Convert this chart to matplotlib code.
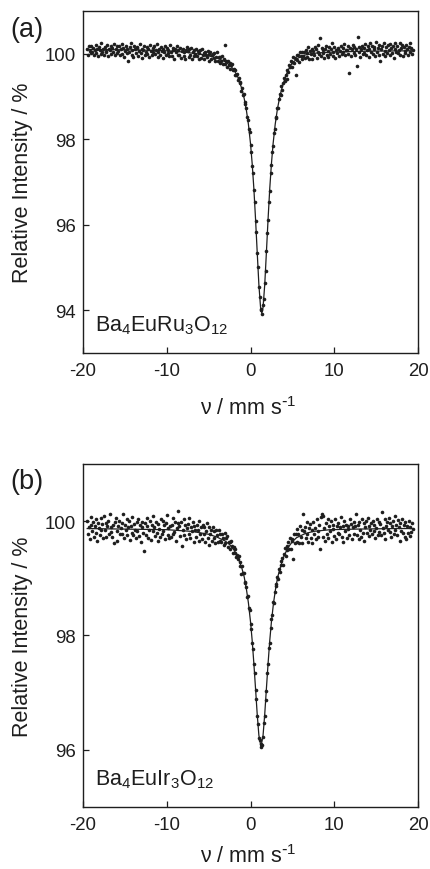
import numpy as np
import matplotlib
matplotlib.use("Agg")
import matplotlib.pyplot as plt

plt.rcParams["font.family"] = ["Liberation Sans", "DejaVu Sans"]
plt.rcParams["mathtext.default"] = "regular"
plt.rcParams["axes.unicode_minus"] = False

INK = "#1e1e1e"

# --- Data ----------------------------------------------------------------
# velocity channels: -19.5 ... 19.4 mm/s, 0.1 mm/s apart (10 channels per row)
V_START, V_STEP = -19.5, 0.1

ru_counts = [
    100.10, 99.98, 100.17, 100.06, 100.01, 100.19, 100.04, 100.13, 99.96, 100.09,
    100.21, 100.02, 100.12, 99.94, 100.15, 100.08, 99.99, 100.24, 100.05, 100.11,
    99.97, 100.16, 100.07, 100.03, 100.20, 99.95, 100.12, 100.09, 100.00, 100.18,
    100.14, 100.04, 100.22, 99.98, 100.10, 100.17, 100.01, 100.06, 100.19, 99.96,
    100.10, 100.22, 99.99, 100.14, 99.92, 100.07, 100.17, 100.02, 100.12, 99.83,
    100.04, 100.15, 100.25, 99.98, 100.09, 99.93, 100.19, 100.11, 100.01, 100.14,
    100.16, 99.95, 100.07, 100.22, 100.02, 100.12, 99.90, 100.09, 100.19, 99.98,
    100.05, 100.15, 99.99, 100.11, 99.93, 100.20, 100.07, 99.96, 100.13, 100.03,
    100.17, 99.99, 100.09, 100.23, 99.93, 100.05, 100.12, 99.96, 100.16, 100.07,
    99.91, 100.11, 100.03, 100.18, 99.97, 100.14, 100.01, 100.08, 99.94, 100.20,
    100.05, 99.94, 100.14, 100.08, 99.87, 100.11, 100.03, 100.18, 99.97, 100.09,
    99.98, 100.14, 99.91, 100.06, 100.11, 99.95, 100.03, 99.88, 100.09, 100.15,
    100.06, 99.92, 100.10, 99.98, 100.14, 99.87, 100.03, 100.08, 99.95, 100.00,
    100.12, 99.95, 100.06, 99.88, 100.02, 100.09, 99.90, 100.12, 99.96, 100.02,
    99.88, 100.05, 99.98, 99.92, 100.07, 99.82, 100.00, 100.03, 99.88, 99.96,
    100.00, 99.89, 100.02, 99.83, 99.92, 100.03, 99.84, 99.92, 99.78, 99.93,
    99.82, 99.94, 99.76, 99.88, 100.20, 99.75, 99.82, 99.68, 99.84, 99.74,
    99.79, 99.65, 99.73, 99.76, 99.61, 99.65, 99.51, 99.63, 99.50, 99.53,
    99.39, 99.44, 99.32, 99.35, 99.14, 99.19, 99.04, 99.06, 98.86, 98.82,
    98.73, 98.52, 98.46, 98.25, 98.16, 97.86, 97.70, 97.37, 97.21, 96.82,
    96.54, 96.09, 95.82, 95.34, 95.01, 94.54, 94.31, 94.04, 94.00, 93.91,
    94.12, 94.26, 94.64, 94.91, 95.38, 95.81, 96.10, 96.54, 96.80, 97.22,
    97.39, 97.71, 97.84, 98.15, 98.25, 98.50, 98.52, 98.72, 98.73, 98.94,
    99.06, 99.04, 99.24, 99.16, 99.32, 99.44, 99.37, 99.50, 99.41, 99.62,
    99.57, 99.74, 99.68, 99.82, 99.68, 99.81, 99.92, 99.78, 99.90, 99.50,
    99.96, 99.86, 99.96, 99.81, 100.05, 99.94, 99.88, 100.05, 99.94, 100.03,
    99.89, 100.09, 100.01, 99.93, 100.15, 99.88, 100.07, 100.00, 99.87, 100.10,
    100.06, 99.96, 100.16, 100.10, 99.90, 100.04, 100.20, 99.99, 100.38, 99.94,
    100.14, 100.01, 100.09, 99.89, 100.12, 100.18, 99.96, 100.06, 99.93, 100.16,
    99.99, 100.12, 100.24, 99.95, 100.05, 100.16, 99.89, 100.09, 100.01, 100.14,
    100.12, 99.94, 100.07, 100.19, 99.99, 100.14, 100.04, 100.22, 99.97, 100.09,
    100.09, 100.18, 99.99, 99.56, 100.14, 99.94, 100.11, 100.21, 100.02, 100.16,
    99.96, 100.12, 99.71, 100.40, 100.04, 100.15, 99.93, 100.10, 100.19, 100.00,
    100.14, 100.02, 100.22, 99.97, 100.08, 100.17, 99.92, 100.12, 100.25, 100.05,
    100.19, 99.99, 100.10, 100.15, 99.94, 100.27, 100.03, 100.13, 99.97, 100.21,
    99.84, 100.11, 100.18, 100.00, 100.24, 99.95, 100.07, 100.15, 100.02, 100.20,
    100.09, 99.96, 100.22, 100.13, 100.01, 100.17, 99.91, 100.10, 100.26, 100.04,
    100.17, 100.01, 100.09, 100.24, 99.98, 100.13, 100.20, 99.95, 100.15, 100.07,
    100.02, 100.21, 100.11, 99.97, 100.16, 100.25, 100.04, 100.14, 99.99, 100.09,
]

ir_counts = [
    100.00, 99.77, 99.89, 99.69, 99.94, 100.07, 99.82, 99.98, 99.73, 99.91,
    99.80, 100.03, 99.66, 99.96, 99.88, 99.75, 100.05, 99.84, 99.95, 99.71,
    100.09, 99.85, 99.97, 99.72, 99.92, 100.01, 99.78, 100.12, 99.81, 99.90,
    99.73, 99.94, 99.62, 99.98, 100.05, 99.82, 99.66, 99.92, 100.01, 99.77,
    99.88, 99.97, 99.78, 100.13, 99.70, 99.93, 99.84, 100.03, 99.75, 99.90,
    100.00, 99.67, 99.91, 99.80, 100.07, 99.76, 99.95, 99.85, 99.71, 99.98,
    99.82, 100.04, 99.74, 99.94, 99.64, 99.89, 99.99, 99.79, 99.47, 99.96,
    99.76, 99.91, 100.05, 99.71, 99.85, 100.00, 99.67, 99.94, 99.82, 100.09,
    99.90, 99.74, 99.98, 99.80, 99.65, 99.95, 99.87, 99.72, 100.03, 99.77,
    100.01, 99.83, 99.93, 99.68, 99.96, 100.11, 99.76, 99.88, 99.71, 99.92,
    99.72, 99.93, 99.78, 100.05, 99.81, 99.98, 99.65, 99.88, 99.96, 100.18,
    99.91, 99.74, 99.99, 99.57, 99.85, 100.03, 99.76, 99.94, 99.69, 99.88,
    99.95, 99.78, 100.05, 99.70, 99.89, 99.82, 99.98, 99.64, 99.91, 99.84,
    99.73, 99.94, 99.84, 99.65, 100.00, 99.77, 99.89, 99.69, 99.94, 99.78,
    99.89, 99.64, 99.83, 99.96, 99.70, 99.89, 99.59, 99.78, 99.85, 99.65,
    99.90, 99.71, 99.82, 99.61, 99.84, 99.75, 99.63, 99.85, 99.66, 99.77,
    99.63, 99.78, 99.70, 99.59, 99.79, 99.61, 99.70, 99.74, 99.54, 99.63,
    99.64, 99.51, 99.65, 99.56, 99.44, 99.54, 99.45, 99.52, 99.38, 99.41,
    99.33, 99.39, 99.21, 99.29, 99.07, 99.21, 99.09, 99.09, 98.92, 98.93,
    98.85, 98.68, 98.69, 98.48, 98.44, 98.20, 98.11, 97.86, 97.76, 97.49,
    97.34, 97.04, 96.89, 96.58, 96.44, 96.20, 96.16, 96.04, 96.09, 96.08,
    96.22, 96.46, 96.58, 96.87, 97.02, 97.34, 97.49, 97.77, 97.87, 98.12,
    98.29, 98.35, 98.58, 98.57, 98.76, 98.90, 98.86, 99.02, 98.98, 99.17,
    99.11, 99.30, 99.23, 99.36, 99.24, 99.43, 99.53, 99.39, 99.56, 99.49,
    99.64, 99.51, 99.71, 99.51, 99.69, 99.66, 99.34, 99.78, 99.62, 99.78,
    99.63, 99.86, 99.77, 99.62, 99.92, 99.72, 99.85, 99.61, 100.12, 99.83,
    99.89, 99.71, 99.99, 99.77, 99.64, 99.88, 99.95, 99.71, 99.84, 99.62,
    99.99, 99.78, 99.88, 99.69, 100.04, 99.83, 99.73, 99.94, 99.52, 100.07,
    100.13, 99.72, 100.09, 99.88, 99.66, 99.97, 99.77, 100.03, 99.70, 99.91,
    99.82, 100.00, 99.64, 99.93, 99.87, 99.74, 100.03, 99.69, 99.91, 99.79,
    99.97, 99.77, 99.89, 100.08, 99.73, 99.91, 99.64, 100.00, 99.82, 99.94,
    99.71, 99.92, 99.86, 99.76, 100.03, 99.95, 99.69, 99.89, 99.78, 99.98,
    99.91, 100.12, 99.75, 99.94, 99.68, 99.99, 99.85, 99.73, 100.03, 99.80,
    99.96, 99.66, 99.89, 100.01, 99.79, 100.06, 99.74, 99.92, 99.84, 99.97,
    99.77, 100.00, 99.82, 99.93, 99.70, 99.88, 100.04, 99.76, 99.98, 99.81,
    99.95, 99.75, 100.16, 99.88, 99.80, 100.03, 99.69, 99.92, 99.98, 99.84,
    100.06, 99.81, 99.96, 99.72, 99.91, 100.00, 99.77, 100.09, 99.85, 99.94,
    99.76, 100.02, 99.89, 99.66, 99.97, 99.83, 100.04, 99.79, 99.93, 99.73,
    99.99, 99.68, 99.92, 99.79, 100.01, 99.74, 99.90, 99.81, 99.96, 99.87,
]

# fitted curves
ru_fit_v = [-19.5, -14, -10, -8, -6, -5, -4, -3, -2.5, -2, -1.5, -1.0, -0.75,
            -0.5, -0.25, 0, 0.2, 0.4, 0.6, 0.8, 1.0, 1.2, 1.35, 1.5, 1.7, 1.9,
            2.1, 2.3, 2.5, 2.7, 2.95, 3.2, 3.45, 3.7, 4.2, 4.7, 5.2, 5.7, 6.5,
            8, 10, 14, 19.3]
ru_fit_y = [100.10, 100.09, 100.07, 100.04, 99.99, 99.95, 99.90, 99.81, 99.74,
            99.63, 99.45, 99.16, 98.95, 98.69, 98.35, 97.90, 97.43, 96.85,
            96.14, 95.36, 94.60, 94.07, 93.93, 94.07, 94.60, 95.36, 96.14,
            96.85, 97.43, 97.90, 98.35, 98.69, 98.95, 99.16, 99.48, 99.70,
            99.82, 99.90, 99.97, 100.02, 100.04, 100.06, 100.07]

ir_fit_v = [-19.5, -15, -10, -7, -5, -4, -3, -2.5, -2, -1.5, -1, -0.75, -0.5,
            -0.25, 0, 0.2, 0.4, 0.6, 0.8, 1.0, 1.25, 1.5, 1.7, 1.9, 2.1, 2.3,
            2.5, 2.75, 3.0, 3.25, 3.5, 4.0, 4.5, 5.0, 5.5, 6.5, 7.5, 9.5, 12.5,
            17.5, 19.3]
ir_fit_y = [99.87, 99.86, 99.85, 99.82, 99.77, 99.72, 99.65, 99.59, 99.50,
            99.37, 99.16, 99.02, 98.82, 98.57, 98.24, 97.91, 97.51, 97.07,
            96.62, 96.25, 96.05, 96.25, 96.62, 97.07, 97.51, 97.91, 98.24,
            98.57, 98.82, 99.02, 99.16, 99.39, 99.54, 99.64, 99.71, 99.78,
            99.82, 99.85, 99.86, 99.87, 99.87]

X_TICKS = [-20, -10, 0, 10, 20]

PANELS = [
    dict(tag="(a)", counts=ru_counts, fit_v=ru_fit_v, fit_y=ru_fit_y,
         name=r"Ba$_4$EuRu$_3$O$_{12}$", ylim=(93, 101), yticks=[94, 96, 98, 100],
         name_y=93.52, box=(12, 354), tag_y=30, xlab_y=415),
    dict(tag="(b)", counts=ir_counts, fit_v=ir_fit_v, fit_y=ir_fit_y,
         name=r"Ba$_4$EuIr$_3$O$_{12}$", ylim=(95, 101), yticks=[96, 98, 100],
         name_y=95.39, box=(465, 807.7), tag_y=482, xlab_y=863),
]

# --- Figure ----------------------------------------------------------------
W, H = 430, 870
fig = plt.figure(figsize=(W / 100, H / 100), dpi=100)

AX_L, AX_R = 83, 418

for p in PANELS:
    top, bot = p["box"]
    ax = fig.add_axes([AX_L / W, 1 - bot / H, (AX_R - AX_L) / W, (bot - top) / H])

    v = V_START + V_STEP * np.arange(len(p["counts"]))
    ax.plot(v, p["counts"], "o", ms=2.6, mew=0, color=INK, zorder=2)
    ax.plot(p["fit_v"], p["fit_y"], "-", lw=0.9, color=INK, zorder=3)

    ax.set_xlim(-20, 20)
    ax.set_ylim(*p["ylim"])
    ax.set_xticks(X_TICKS)
    ax.set_xticklabels([str(t) for t in X_TICKS])
    ax.set_yticks(p["yticks"])
    ax.tick_params(direction="in", length=4, width=0.9, labelsize=13.4,
                   colors=INK, labelcolor=INK)
    ax.tick_params(axis="y", pad=5)
    ax.tick_params(axis="x", pad=6.5)
    for s in ax.spines.values():
        s.set_linewidth(1.0)
        s.set_color(INK)

    ax.text(-18.57, p["name_y"], p["name"], fontsize=15.5, color=INK,
            ha="left", va="baseline")

    fig.text(10 / W, 1 - p["tag_y"] / H, p["tag"], fontsize=19.5, color=INK,
             ha="left", va="center")
    fig.text(23 / W, 1 - (top + bot) / 2 / H, "Relative Intensity / %",
             fontsize=15.5, color=INK, rotation=90, ha="center", va="center")
    fig.text(248 / W, 1 - p["xlab_y"] / H, r"\u03bd / mm s$^{\text{-}1}$".replace(r"\u03bd", "\u03bd"),
             fontsize=15.5, color=INK, ha="center", va="baseline")

fig.savefig("out.png", dpi=100)
